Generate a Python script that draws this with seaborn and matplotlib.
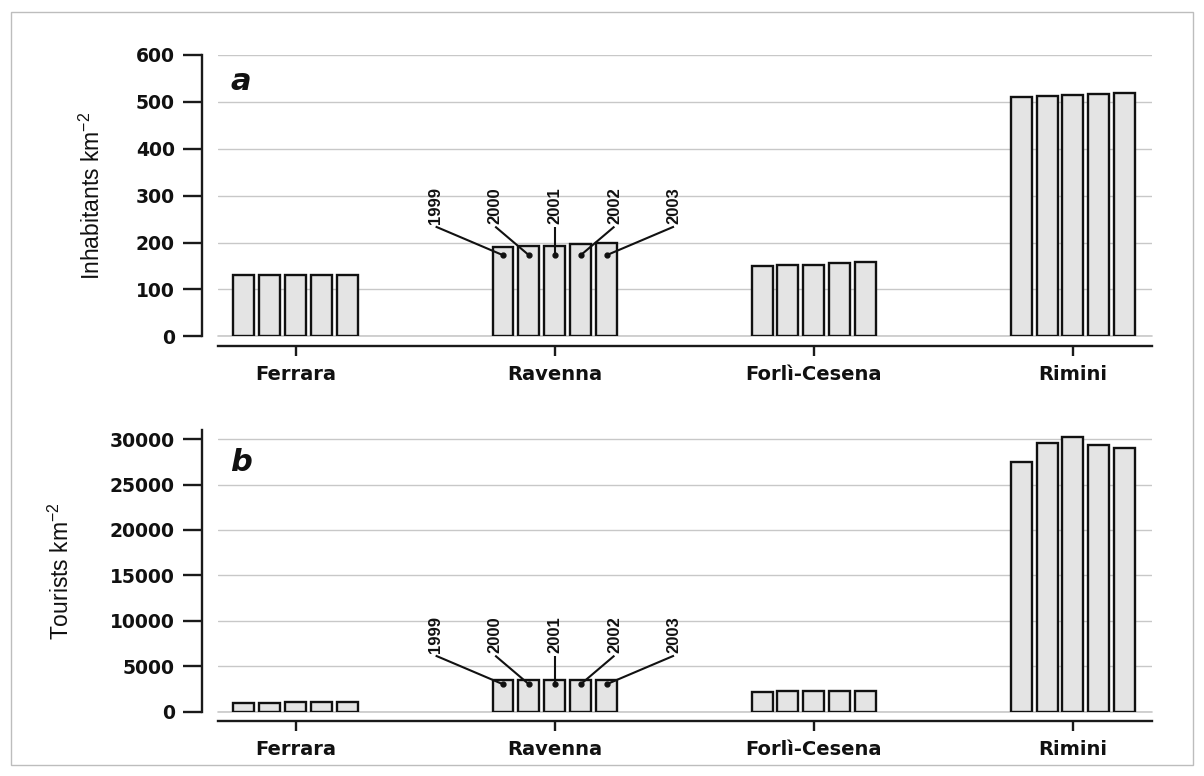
import numpy as np
import pandas as pd
import matplotlib
matplotlib.use("Agg")
import matplotlib.pyplot as plt
from matplotlib import font_manager
from matplotlib.patches import Rectangle
import seaborn as sns

# ---------------- data ----------------
regions = ["Ferrara", "Ravenna", "Forlì-Cesena", "Rimini"]
years = ["1999", "2000", "2001", "2002", "2003"]

inhabitants_ferrara = [131, 131, 131, 131, 131]
inhabitants_ravenna = [191, 193, 193, 196, 198]
inhabitants_forli = [150, 153, 153, 156, 158]
inhabitants_rimini = [510, 512, 514, 516, 520]

tourists_ferrara = [1000, 1000, 1050, 1100, 1100]
tourists_ravenna = [3450, 3500, 3500, 3500, 3480]
tourists_forli = [2200, 2250, 2250, 2250, 2250]
tourists_rimini = [27500, 29600, 30200, 29300, 29000]

inh_ticks = [0, 100, 200, 300, 400, 500, 600]
tour_ticks = [0, 5000, 10000, 15000, 20000, 25000, 30000]

# annotation levels (data units) for the year call-outs on Ravenna
ann_a = dict(text_y=240, line_y=234, dot_y=173)
ann_b = dict(text_y=6430, line_y=6170, dot_y=3020)


def long_df(vals_by_region):
    rows = []
    for reg, vals in zip(regions, vals_by_region):
        for yr, v in zip(years, vals):
            rows.append({"region": reg, "year": yr, "value": v})
    return pd.DataFrame(rows)


df_a = long_df([inhabitants_ferrara, inhabitants_ravenna, inhabitants_forli, inhabitants_rimini])
df_b = long_df([tourists_ferrara, tourists_ravenna, tourists_forli, tourists_rimini])

# ---------------- style ----------------
sns.set_theme(style="white")
plt.rcParams["font.family"] = ["DejaVu Sans"]


def has_font(name):
    try:
        font_manager.findfont(font_manager.FontProperties(family=name), fallback_to_default=False)
        return True
    except Exception:
        return False


narrow = "Liberation Sans Narrow" if has_font("Liberation Sans Narrow") else None
label_family = narrow if narrow else "Liberation Sans"
label_size = 18.5 if narrow else 16.5
plt.rcParams["mathtext.fontset"] = "custom"
plt.rcParams["mathtext.rm"] = label_family
plt.rcParams["mathtext.it"] = label_family
plt.rcParams["mathtext.bf"] = label_family

W, H = 1204, 776
fig = plt.figure(figsize=(W / 100, H / 100), dpi=100)
fig.patch.set_facecolor("white")

ax_left = 218 / W
ax_w = 934 / W
ax_a = fig.add_axes([ax_left, (H - 336.3) / H, ax_w, 281.3 / H])
ax_b = fig.add_axes([ax_left, (H - 711.7) / H, ax_w, 281.7 / H])

fill = "#e4e4e4"
grid_col = "#c8c8c8"
n_years = len(years)
group_w = 0.5
slot = group_w / n_years


def draw_panel(ax, df, ticks, ylim, ylabel, letter, letter_y, ann, label_x):
    sns.barplot(data=df, x="region", y="value", hue="year", order=regions,
                hue_order=years, palette=[fill] * n_years, width=group_w, gap=0.19,
                edgecolor="#111111", linewidth=1.7, errorbar=None, legend=False,
                saturation=1, ax=ax, zorder=3)
    ax.set_xlim(-0.30, 3.305)
    ax.set_ylim(*ylim)
    ax.set_yticks(ticks)
    ax.set_yticklabels([str(t) for t in ticks])
    ax.set_axisbelow(True)
    ax.yaxis.grid(True, color=grid_col, linewidth=1.0, zorder=0)
    ax.xaxis.grid(False)
    # gridline at zero sits on the axes edge; draw it unclipped
    ax.axhline(ticks[0], color=grid_col, linewidth=1.2, zorder=1, clip_on=False)
    for s in ["top", "right"]:
        ax.spines[s].set_visible(False)
    ax.spines["left"].set_position(("outward", 11.5))
    ax.spines["bottom"].set_position(("outward", 7))
    for s in ["left", "bottom"]:
        ax.spines[s].set_color("#1a1a1a")
        ax.spines[s].set_linewidth(1.7)
    ax.tick_params(axis="y", direction="out", length=13.5, width=1.7, color="#1a1a1a",
                   pad=6, labelsize=13.5, left=True)
    ax.tick_params(axis="x", direction="out", length=7.5, width=1.7, color="#1a1a1a",
                   pad=6, labelsize=14, bottom=True)
    for lab in ax.get_yticklabels() + ax.get_xticklabels():
        lab.set_fontweight("bold")
        lab.set_color("#111111")
    ax.set_xlabel("")
    ax.set_ylabel(ylabel, family=label_family, fontsize=label_size, color="#111111",
                  va="center")
    ax.yaxis.set_label_coords(label_x, 0.5)
    ax.text(0.013, letter_y, letter, transform=ax.transAxes, fontsize=22,
            fontweight="bold", fontstyle="italic", ha="left", va="center", color="#111111")

    # year call-outs on Ravenna bars
    ridx = regions.index("Ravenna")
    for j, yr in enumerate(years):
        bar_x = ridx + (j - (n_years - 1) / 2) * slot
        lab_x = ridx + (j - (n_years - 1) / 2) * 0.23
        ax.plot([lab_x, bar_x], [ann["line_y"], ann["dot_y"]], color="#111111",
                lw=1.5, zorder=5, solid_capstyle="butt")
        ax.plot([bar_x], [ann["dot_y"]], "o", color="#111111", ms=3.5, zorder=6)
        ax.text(lab_x, ann["text_y"], yr, rotation=90, ha="center", va="bottom",
                family="Liberation Sans", fontweight="bold", fontsize=12,
                color="#111111", zorder=6)


draw_panel(ax_a, df_a, inh_ticks, (0, 600), "Inhabitants km$^{-2}$", "a", 0.907,
           ann_a, -0.135)
draw_panel(ax_b, df_b, tour_ticks, (0, 31000), "Tourists km$^{-2}$", "b", 0.883,
           ann_b, -0.168)

# light frame around the figure
fig.patches.append(Rectangle((11 / W, (H - 765) / H), (1193 - 11) / W, (765 - 12) / H,
                             transform=fig.transFigure, fill=False,
                             edgecolor="#bdbdbd", linewidth=1.0))

fig.savefig("out.png", dpi=100)
